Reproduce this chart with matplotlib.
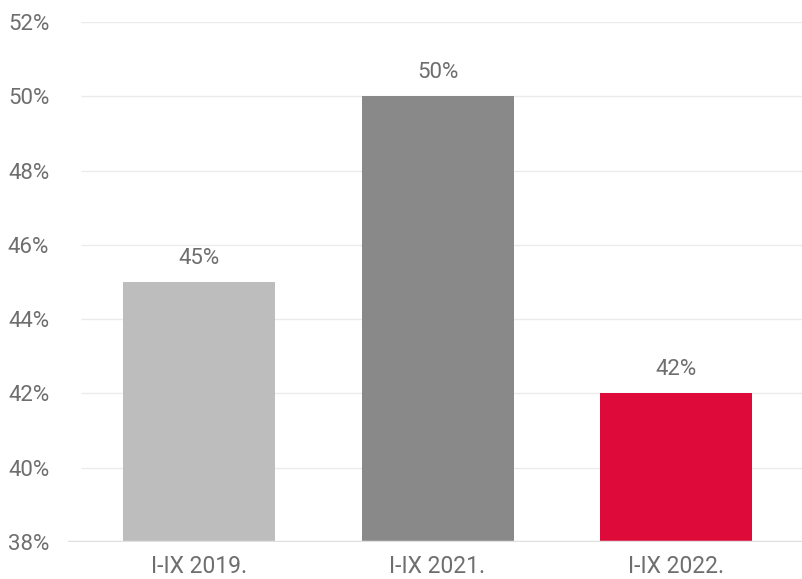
import matplotlib.pyplot as plt
from matplotlib.ticker import FuncFormatter

categories = ['I-IX 2019.', 'I-IX 2021.', 'I-IX 2022.']
values = [45, 50, 42]
colors = ['#bdbdbd', '#898989', '#dd0a3a']
yticks = [38, 40, 42, 44, 46, 48, 50, 52]

plt.rcParams['font.family'] = ['Roboto', 'DejaVu Sans']
txt = '#6e6e6e'

fig = plt.figure(figsize=(8.02, 5.79), dpi=100)
# axes box in pixels: left 68, right 802, bottom y=542, top y=22
ax = fig.add_axes([68 / 802, (579 - 542) / 579, 734 / 802, 520 / 579])

x = list(range(len(categories)))
step = 238.5
xmin = -(199 - 68) / step
xmax = (802 - 199) / step
grid_x0 = -(199 - 81) / step

for t in yticks[1:]:
    ax.hlines(t, grid_x0, xmax, color='#ebebeb', lw=1, zorder=0)
ax.bar(x, values, width=152 / step, color=colors, zorder=2)
ax.axhline(38, color='#e0e0e0', lw=2.5, zorder=3)

for xi, v in zip(x, values):
    ax.text(xi, v + 0.35, f'{v}%', ha='center', va='bottom', fontsize=16, color=txt)

ax.set_xlim(xmin, xmax)
ax.set_ylim(38, 52)
ax.set_yticks(yticks)
ax.yaxis.set_major_formatter(FuncFormatter(lambda v, p: f'{v:.0f}%'))
ax.set_xticks(x)
ax.set_xticklabels(categories)
ax.tick_params(axis='y', length=0, labelsize=16, labelcolor=txt, pad=13.5)
ax.tick_params(axis='x', length=0, labelsize=16.5, labelcolor=txt, pad=9.5)
for s in ax.spines.values():
    s.set_visible(False)

fig.savefig('out.png', dpi=100)
